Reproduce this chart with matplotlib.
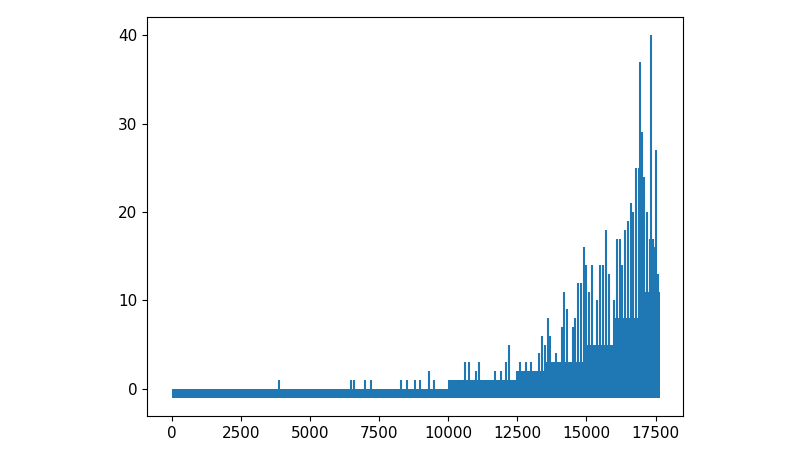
import matplotlib
matplotlib.use("Agg")
import matplotlib.pyplot as plt
import numpy as np

# dense band envelope (upper edge), lower edge is -1
band_x = [0, 10000, 10000, 12500, 12500, 13500, 13500, 15000, 15000, 16000, 16000, 17000, 17000, 17650]
band_hi = [0, 0, 1, 1, 2, 2, 3, 3, 5, 5, 8, 8, 11, 11]
band_lo = -1

spike_x = [3900, 6500, 6600, 7000, 7200, 8300, 8500, 8800, 9000, 9300, 9500, 10600, 10750, 11000, 11100,
           11700, 11900, 12100, 12200, 12500, 12600, 12800, 13000, 13300, 13400, 13500, 13600, 13700, 13900,
           14100, 14200, 14300, 14500, 14600, 14700, 14800, 14900, 15000, 15100, 15200, 15400, 15500, 15600,
           15700, 15800, 16000, 16100, 16200, 16300, 16400, 16500, 16600, 16700, 16800, 16900, 16950, 17000,
           17100, 17200, 17300, 17350, 17400, 17450, 17500, 17600]
spike_y = [1, 1, 1, 1, 1, 1, 1, 1, 1, 2, 1, 3, 3, 2, 3,
           2, 2, 3, 5, 2, 3, 3, 3, 4, 6, 5, 8, 6, 4,
           7, 11, 9, 7, 8, 12, 12, 16, 14, 11, 14, 10, 14, 14,
           18, 13, 10, 17, 17, 14, 18, 19, 21, 20, 25, 25, 37, 29,
           24, 20, 17, 40, 17, 16, 27, 13]

fig = plt.figure(figsize=(8, 4.5), dpi=100)
ax = fig.add_axes([0.184, 0.076, 0.67, 0.887])
c = "#1f77b4"
ax.fill_between(band_x, band_lo, band_hi, color=c, lw=0)
ax.vlines(spike_x, band_lo, spike_y, color=c, lw=1.5)
ax.set_xlim(-880, 18500)
ax.set_ylim(-3.05, 42.1)
ax.set_xticks([0, 2500, 5000, 7500, 10000, 12500, 15000, 17500])
ax.set_yticks([0, 10, 20, 30, 40])
ax.tick_params(labelsize=11)
fig.savefig("out.png")
